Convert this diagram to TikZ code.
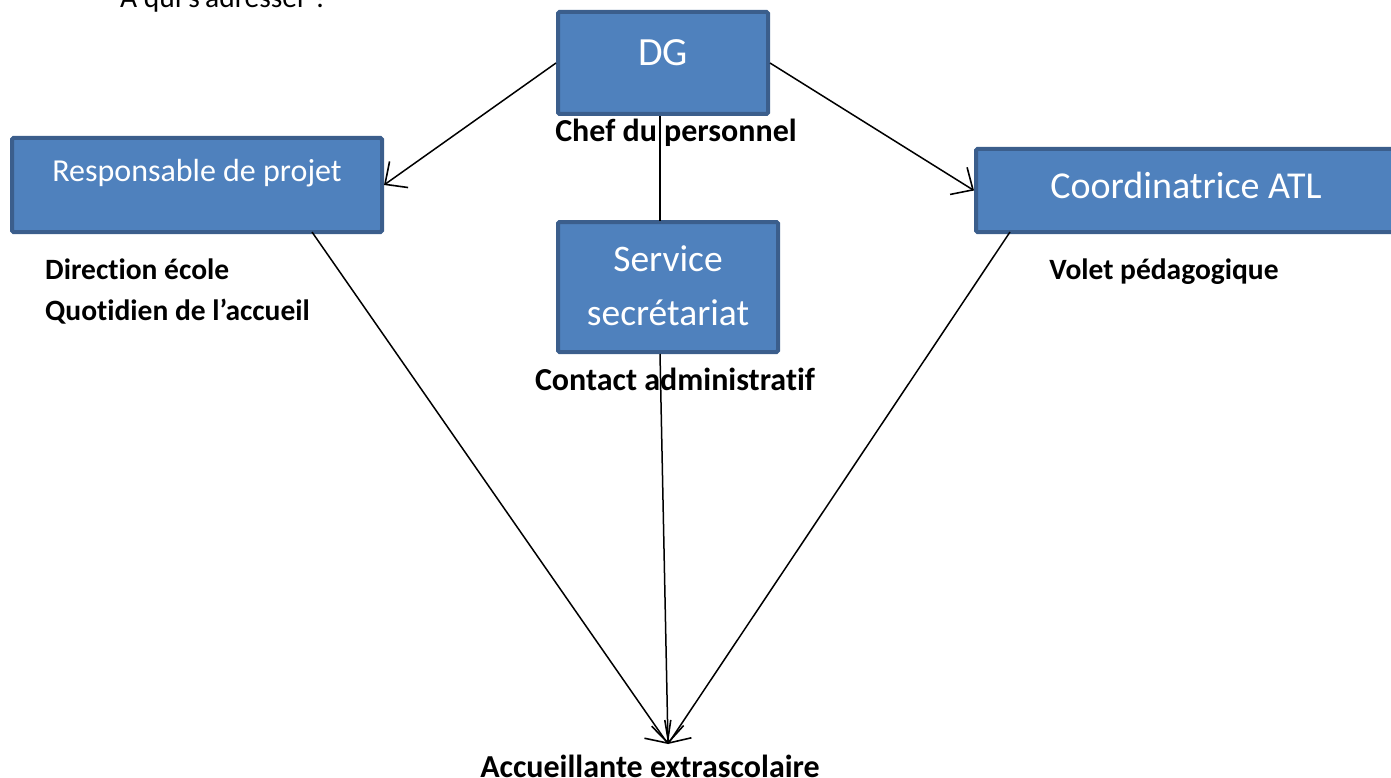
\documentclass[tikz,border=0pt]{standalone}
\usepackage{fontspec}
\setmainfont{Carlito}[Ligatures=NoCommon]
\usetikzlibrary{arrows.meta}
\definecolor{boxfill}{HTML}{4F81BD}
\definecolor{boxline}{HTML}{3B5E8C}
\begin{document}
\begin{tikzpicture}[x=1pt,y=-1pt,
  blue box/.style={draw=boxline,line width=4pt,fill=boxfill,rounded corners=1.5pt,text=white,inner sep=0pt},
  lab/.style={font=\bfseries\fontsize{32}{38}\selectfont,inner sep=0pt,anchor=base},
  side lab/.style={font=\bfseries\fontsize{29.5}{35}\selectfont,inner sep=0pt,anchor=base},
  conn/.style={line width=1.5pt,-{Straight Barb[length=17pt,width=32pt,line width=1.6pt]}},
  plain/.style={line width=1.5pt}]
\clip (0,0) rectangle (1391,778);
\useasboundingbox (0,0) rectangle (1391,778);
% title (cut off)
\node[anchor=base west,inner sep=0pt,font=\fontsize{29.5}{35}\selectfont] (title) at (120,7.5) {À qui s’adresser ?};
% boxes
\node[blue box,minimum width=210pt,minimum height=102pt] (dg) at (663,63) {};
\node[font=\fontsize{40}{48}\selectfont,text=white,inner sep=0pt,anchor=base] (dgt) at (663,66) {DG};
\node[blue box,minimum width=370pt,minimum height=94pt] (resp) at (197,185) {};
\node[font=\fontsize{32}{38}\selectfont,text=white,inner sep=0pt,anchor=base] (respt) at (197,182) {Responsable de projet};
\node[blue box,minimum width=420pt,minimum height=83pt] (coord) at (1186,190.5) {};
\node[font=\fontsize{38}{46}\selectfont,text=white,inner sep=0pt,anchor=base] (coordt) at (1186,198) {Coordinatrice ATL};
\node[blue box,minimum width=220pt,minimum height=130pt] (serv) at (668,287) {};
\node[font=\fontsize{37.5}{45}\selectfont,text=white,inner sep=0pt,anchor=base] (servt1) at (668,271) {Service};
\node[font=\fontsize{37.5}{45}\selectfont,text=white,inner sep=0pt,anchor=base] (servt2) at (668,325) {secrétariat};
% labels
\node[lab] (chef) at (676,142) {Chef du personnel};
\node[side lab,anchor=base west] (dir) at (45,279) {Direction école};
\node[side lab,anchor=base west] (quot) at (45,320) {Quotidien de l’accueil};
\node[side lab] (volet) at (1164,279) {Volet pédagogique};
\node[lab] (contact) at (675,390) {Contact administratif};
\node[lab] (accueil) at (650,777) {Accueillante extrascolaire};
\coordinate (target) at (668,744);
% connectors
\draw[conn] (dg.west) -- (resp.east);
\draw[conn] (dg.east) -- (coord.west);
\draw[plain] (660,116) -- (660,221);
\draw[conn] (312,232) -- (target);
\draw[conn] (660,354) -- (target);
\draw[conn] (1010,232) -- (target);
\end{tikzpicture}
\end{document}
